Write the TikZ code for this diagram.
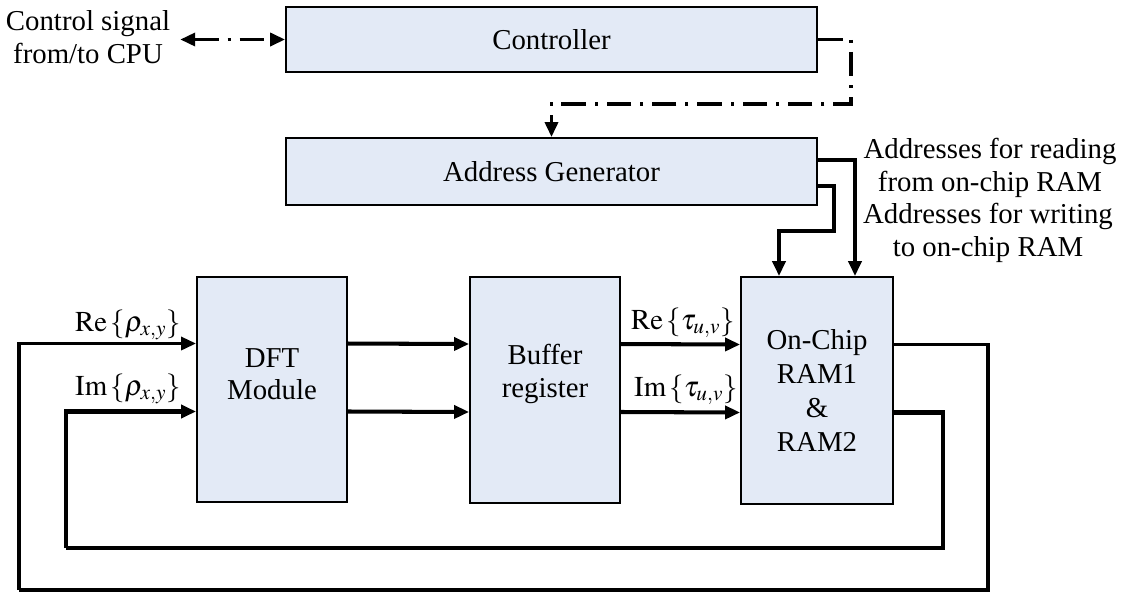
\documentclass[tikz,border=0pt]{standalone}
\usepackage{mathptmx}
\usepackage{fontspec}
\setmainfont{Liberation Serif}
\usetikzlibrary{arrows.meta}
\definecolor{blockfill}{RGB}{227,234,246}

\begin{document}
\begin{tikzpicture}[x=0.02cm, y=-0.02cm,
	font=\fontsize{16.4pt}{18.5pt}\selectfont,
	block/.style={draw=black, line width=1.1pt, fill=blockfill, inner sep=0pt},
	tip/.style={-{Triangle[length=0.3cm, width=0.26cm]}},
	sig/.style={line width=2.3pt, tip},
	loopline/.style={line width=2.3pt},
	ctl/.style={line width=2pt, dash pattern=on 14pt off 5pt on 1.8pt off 5pt}]
	
	\useasboundingbox (0,0) rectangle (1130,593);
	
	% blocks
	\node[block, minimum width=10.62cm, minimum height=1.3cm] (ctrl) at (551.5,39.5) {Controller};
	\node[block, minimum width=10.62cm, minimum height=1.34cm] (addr) at (551.5,171.5) {Address Generator};
	\node[block, minimum width=3cm, minimum height=4.5cm] (dft) at (272,389.5) {};
	\node[block, minimum width=3cm, minimum height=4.52cm] (buf) at (545,390) {};
	\node[block, minimum width=3.04cm, minimum height=4.54cm, align=center,
		font=\fontsize{16.4pt}{19.5pt}\selectfont] (ram) at (817,390.5) {On-Chip\\RAM1\\\&\\RAM2};
	\node[align=center] (dfttxt) at (272,374) {DFT\\Module};
	\node[align=center] (buftxt) at (545,374) {Buffer\\register};
	
	% texts
	\node[align=center] (cpu) at (88,37) {Control signal\\from/to CPU};
	\node[align=center] (rdaddr) at (990,168) {Addresses for reading\\from on-chip RAM};
	\node[align=center] (wraddr) at (988,233) {Addresses for writing\\to on-chip RAM};
	\node (rerho) at (128,325) {$\mathrm{Re}\,\{\rho_{x,y}\}$};
	\node (imrho) at (128,389) {$\mathrm{Im}\,\{\rho_{x,y}\}$};
	\node (retau) at (683,323) {$\mathrm{Re}\,\{\tau_{u,v}\}$};
	\node (imtau) at (686,390) {$\mathrm{Im}\,\{\tau_{u,v}\}$};
	
	\coordinate (outerR) at (988,590);
	\coordinate (outerL) at (19,590);
	\coordinate (innerR) at (943,548);
	\coordinate (innerL) at (66,548);
	
	% control
	\draw[ctl, {Triangle[length=0.3cm, width=0.26cm]}-{Triangle[length=0.3cm, width=0.26cm]}]
		([xshift=0.08cm]cpu.east |- ctrl.west) -- (ctrl.west);
	\draw[ctl, tip]
		(ctrl.east) -- ++(33,0) -- ++(0,64.5) -| (addr.north);
	
	% addresses
	\draw[sig] ([yshift=0.23cm]addr.east) -| ([xshift=0.76cm]ram.north);
	\draw[sig] ([yshift=-0.29cm]addr.east) -- ++(16,0) -- ++(0,45) -| ([xshift=-0.76cm]ram.north);
	
	% data path
	\draw[sig] ([yshift=0.92cm]dft.east) -- ([yshift=0.92cm]buf.west);
	\draw[sig] ([yshift=-0.44cm]dft.east) -- ([yshift=-0.44cm]buf.west);
	\draw[sig] ([yshift=0.92cm]buf.east) -- ([yshift=0.92cm]ram.west);
	\draw[sig] ([yshift=-0.44cm]buf.east) -- ([yshift=-0.44cm]ram.west);
	
	% feedback
	\draw[loopline, line width=1.9pt] ([yshift=0.92cm]ram.east) -| (outerR) -- (outerL);
	\draw[sig, line width=1.9pt] (outerL) |- ([yshift=0.92cm]dft.west);
	\draw[loopline] ([yshift=-0.44cm]ram.east) -| (innerR) -- (innerL);
	\draw[sig] (innerL) |- ([yshift=-0.44cm]dft.west);
\end{tikzpicture}
\end{document}
